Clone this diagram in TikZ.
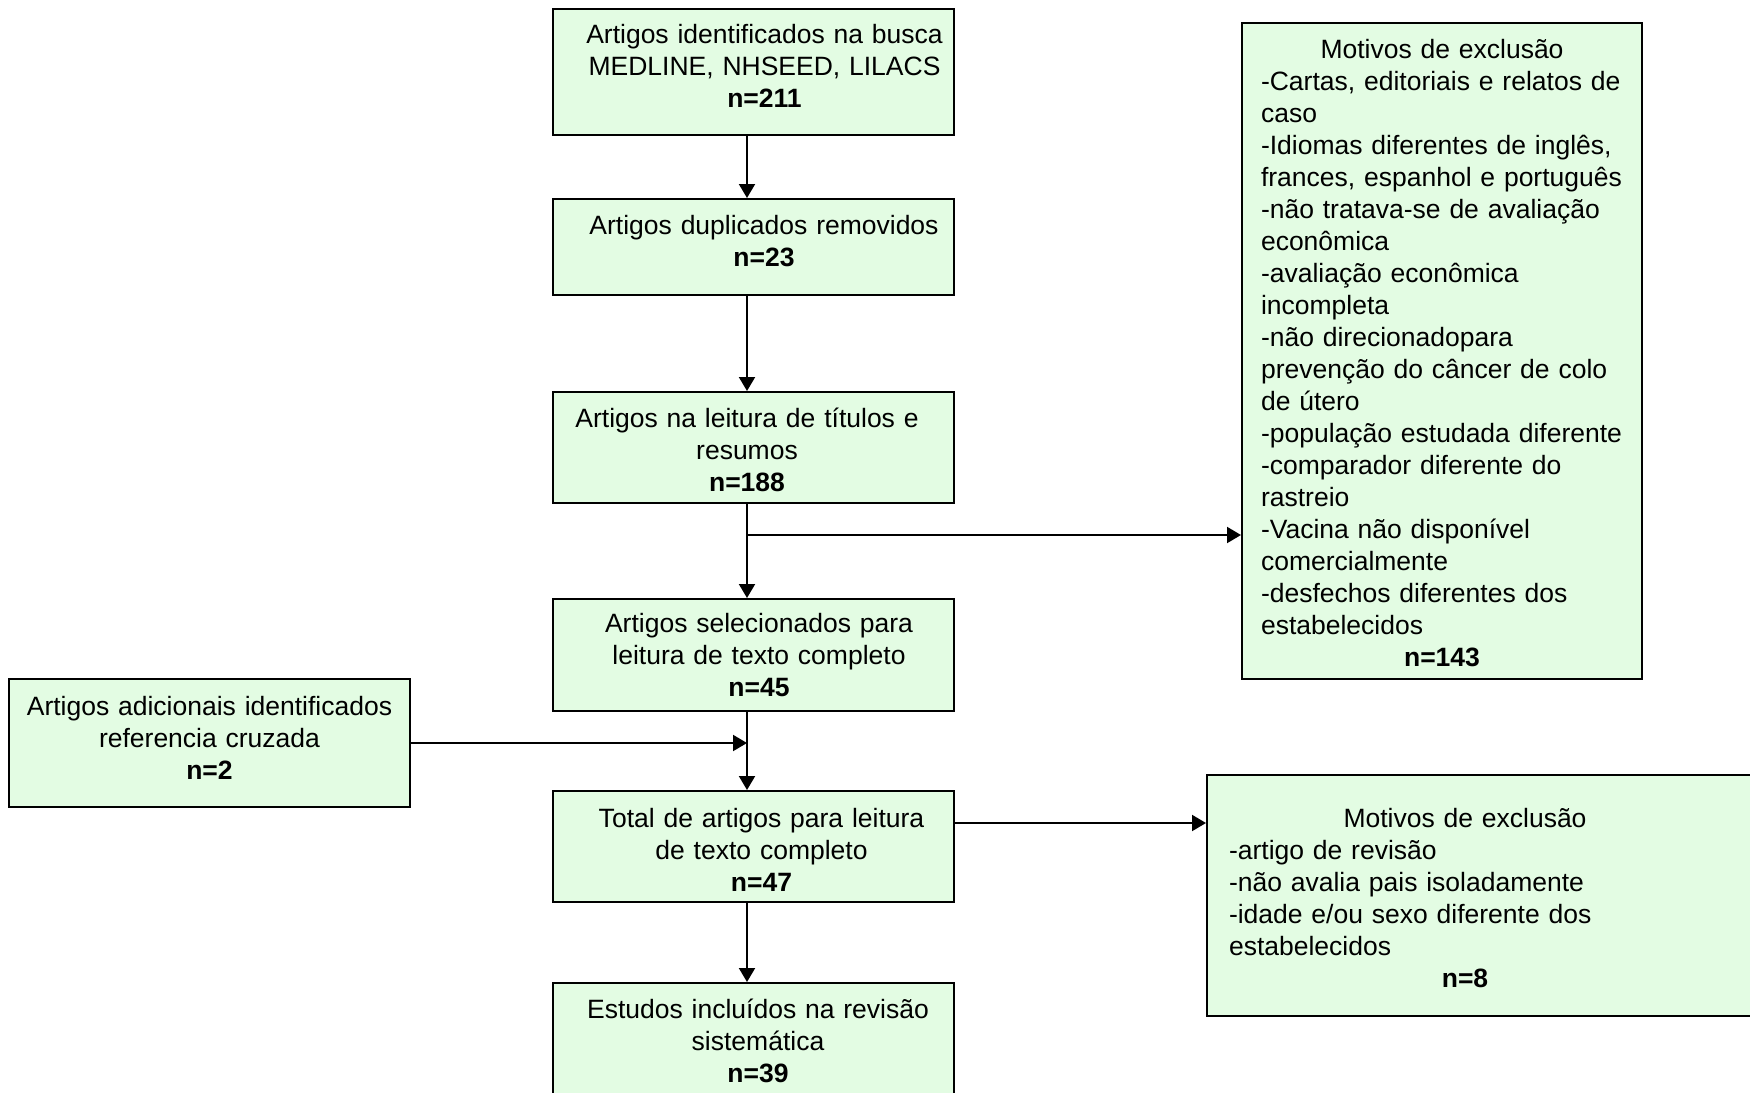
\documentclass[tikz,border=0pt]{standalone}
\usepackage{fontspec}
\setmainfont{Liberation Sans}
\usetikzlibrary{arrows.meta}
\definecolor{verde}{RGB}{227,252,227}

\begin{document}
\begin{tikzpicture}[x=1pt,y=-1pt,
  caixa/.style={draw, line width=2pt, fill=verde, minimum width=401pt, text width=390pt, align=center, inner sep=4pt},
  dir/.style={execute at begin node={\leftskip=#1 plus 1fil\rightskip=0pt plus 1fil\parfillskip=0pt}},
  esq/.style={execute at begin node={\rightskip=#1 plus 1fil\leftskip=0pt plus 1fil\parfillskip=0pt}},
  sobe/.style={execute at end node={\endgraf\kern#1}},
  seta/.style={line width=2pt, -{Triangle[length=14pt,width=16pt]}}]
\fontsize{26.5}{32}\selectfont
\useasboundingbox (0,0) rectangle (1750,1092);

\node[caixa, dir=22pt, sobe=12pt, minimum height=126pt] (1) at (753.5,72) {Artigos identificados na busca\\ MEDLINE, NHSEED, LILACS\\ \textbf{n=211}};
\node[caixa, dir=21pt, sobe=11pt, minimum height=96pt] (2) at (753.5,247) {Artigos duplicados removidos\\ \textbf{n=23}};
\node[caixa, esq=13pt, sobe=-4.5pt, minimum height=111pt] (3) at (753.5,447.5) {Artigos na leitura de títulos e\\ resumos\\ \textbf{n=188}};
\node[caixa, dir=11pt, minimum height=112pt] (4) at (753.5,655) {Artigos selecionados para\\ leitura de texto completo\\ \textbf{n=45}};
\node[caixa, dir=16pt, sobe=-7pt, minimum height=111pt] (5) at (753.5,846.5) {Total de artigos para leitura\\ de texto completo\\ \textbf{n=47}};
\node[caixa, dir=9pt, sobe=-4.5pt, minimum height=111pt] (6) at (753.5,1038.5) {Estudos incluídos na revisão\\ sistemática\\ \textbf{n=39}};
\node[caixa, sobe=11pt, minimum height=128pt] (7) at (209.5,743) {Artigos adicionais identificados\\ referencia cruzada\\ \textbf{n=2}};

% motivos de exclusao
\node[caixa, align=left, sobe=-4.5pt, text width=362pt, minimum width=400pt, minimum height=656pt, inner xsep=19pt] (8) at (1442,351) {%
{\centering Motivos de exclusão\par}
-Cartas, editoriais e relatos de\\
caso\\
-Idiomas diferentes de inglês,\\
frances, espanhol e português\\
-não tratava-se de avaliação\\
econômica\\
-avaliação econômica\\
incompleta\\
-não direcionadopara\\
prevenção do câncer de colo\\
de útero\\
-população estudada diferente\\
-comparador diferente do\\
rastreio\\
-Vacina não disponível\\
comercialmente\\
-desfechos diferentes dos\\
estabelecidos\par
{\centering\textbf{n=143}\par}};
\node[caixa, align=left, sobe=-5.5pt, text width=529pt, minimum height=241pt, inner xsep=22pt] (9) at (1493.5,895.5) {%
{\centering Motivos de exclusão\hspace*{57pt}\par}
-artigo de revisão\\
-não avalia pais isoladamente\\
-idade e/ou sexo diferente dos\\
estabelecidos\par
{\centering\textbf{n=8}\hspace*{57pt}\par}};

\coordinate (c1) at (747,535);
\coordinate (c2) at (747,743);
\coordinate (c3) at (954,823);

\path[draw,seta] ([xshift=-6.5pt]1.south) -- ([xshift=-6.5pt]2.north);
\path[draw,seta] ([xshift=-6.5pt]2.south) -- ([xshift=-6.5pt]3.north);
\path[draw,seta] ([xshift=-6.5pt]3.south) -- ([xshift=-6.5pt]4.north);
\path[draw,seta] (c1) -- (c1 -| 8.west);
\path[draw,seta] ([xshift=-6.5pt]4.south) -- ([xshift=-6.5pt]5.north);
\path[draw,seta] (7) -- (7 -| c2);
\path[draw,seta] (5.east |- c3) -- (9.west |- c3);
\path[draw,seta] ([xshift=-6.5pt]5.south) -- ([xshift=-6.5pt]6.north);
\end{tikzpicture}
\end{document}
